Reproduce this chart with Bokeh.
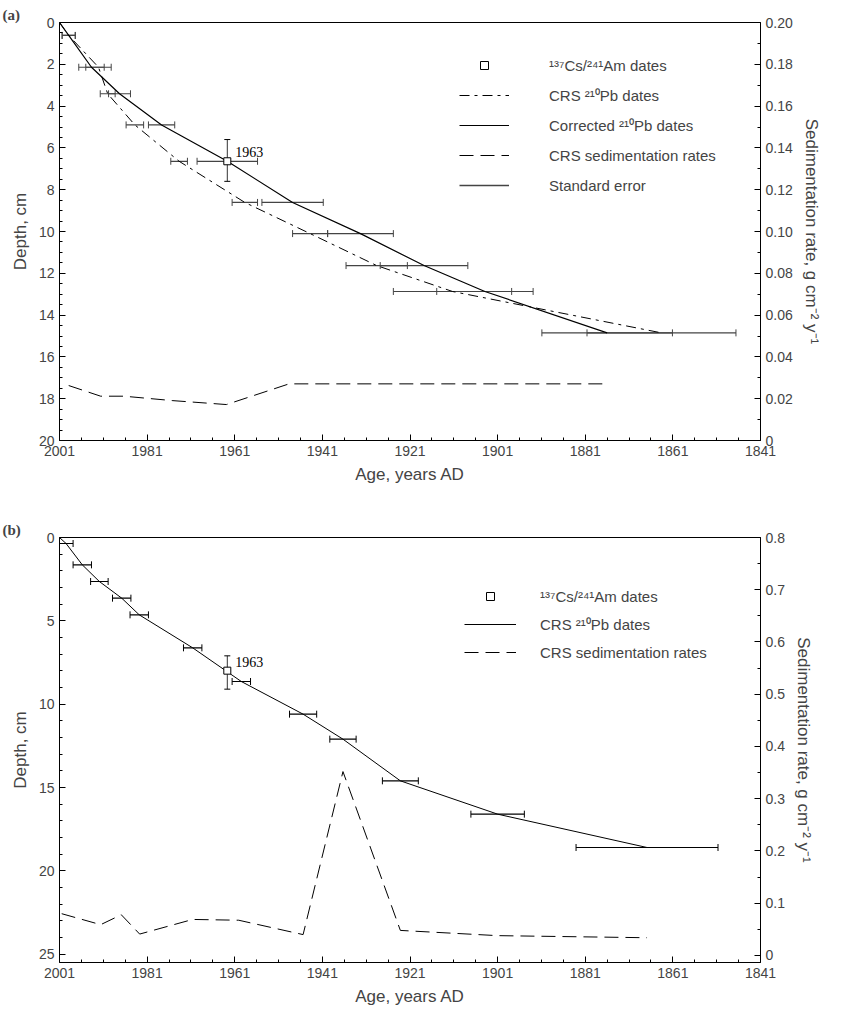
import numpy as np
from bokeh.plotting import figure
from bokeh.layouts import column
from bokeh.models import (ColumnDataSource, Range1d, LinearAxis, FixedTicker,
                          Whisker, TeeHead, Legend, LegendItem, CustomJSTickFormatter)
from bokeh.core.properties import value
from bokeh.embed import file_html
from bokeh.resources import INLINE

# ---- panel (a) data ----
a_depth = [0.62, 2.14, 3.41, 4.9, 6.64, 8.61, 10.1, 11.63, 12.87, 14.85]
a_crs_year = [1998.9, 1992.1, 1990.0, 1983.8, 1973.7, 1958.7, 1943.8, 1928.6, 1911.3, 1863.6]
a_crs_err = [1.5, 2.9, 1.7, 2.0, 1.9, 2.9, 4.0, 7.0, 13.5, 17.0]
a_cor_year = [1998.9, 1993.7, 1987.3, 1977.7, 1962.7, 1947.8, 1932.3, 1917.8, 1903.9, 1876.0]
a_cor_err = [1.5, 2.9, 2.5, 3.0, 6.9, 7.0, 7.5, 10.0, 11.0, 14.9]
a_cs_year, a_cs_depth, a_cs_lo, a_cs_hi = 1962.7, 6.64, 5.6, 7.6
a_rate_year = [1998.9, 1991.6, 1986.3, 1975.3, 1962.9, 1948.6, 1875.6]
a_rate = [0.0263, 0.0212, 0.0212, 0.0191, 0.0172, 0.0271, 0.0271]

# ---- panel (b) data ----
b_depth = [0.36, 1.64, 2.64, 3.64, 4.64, 6.62, 8.64, 10.6, 12.1, 14.6, 16.6, 18.6]
b_year = [1999.5, 1995.8, 1991.9, 1986.8, 1982.8, 1970.6, 1959.5, 1945.4, 1936.3, 1923.2, 1901.0, 1866.9]
b_err = [1.6, 2.1, 2.0, 2.1, 2.1, 2.1, 2.1, 3.1, 3.0, 4.1, 6.1, 16.2]
b_cs_year, b_cs_depth, b_cs_lo, b_cs_hi = 1962.7, 7.99, 7.1, 9.1
b_rate_year = [2000.5, 1991.6, 1986.9, 1982.7, 1970.6, 1960.1, 1945.4, 1936.3, 1923.2, 1901.0, 1866.9]
b_rate = [0.080, 0.059, 0.078, 0.041, 0.069, 0.0675, 0.040, 0.352, 0.048, 0.038, 0.034]

year_ticks = list(range(2001, 1840, -20))
SANS = "Liberation Sans"
SERIF = "Liberation Serif"
DASHDOT = "10 5 3 5"
DASHED = "14 7"


def base_fig(height, top, bottom, yr, ymajor, yminor, rr, rmajor, rminor, rdec, label):
    p = figure(frame_width=701, frame_height=height, x_range=Range1d(2001, 1841),
               y_range=Range1d(*yr), output_backend="svg", toolbar_location=None,
               min_border_left=59, min_border_right=72, min_border_top=top,
               min_border_bottom=bottom, title=label)
    p.title.align = "left"
    p.title.offset = -57
    p.title.text_font = SERIF
    p.title.text_font_size = "15px"
    p.title.text_font_style = "bold"
    p.title.standoff = 0
    p.grid.visible = False
    p.outline_line_color = "black"
    p.xaxis.ticker = FixedTicker(ticks=year_ticks, minor_ticks=list(range(2001, 1840, -5)))
    p.xaxis.axis_label = "Age, years AD"
    p.yaxis.ticker = FixedTicker(ticks=ymajor, minor_ticks=yminor)
    p.yaxis.axis_label = "Depth, cm"
    p.extra_y_ranges = {"rate": Range1d(*rr)}
    fmt = CustomJSTickFormatter(code=f"return tick == 0 ? '0' : tick.toFixed({rdec});")
    ra = LinearAxis(y_range_name="rate", axis_label="Sedimentation rate, g cm⁻² y⁻¹",
                    ticker=FixedTicker(ticks=rmajor, minor_ticks=rminor), formatter=fmt)
    p.add_layout(ra, "right")
    for ax in p.axis:
        ax.major_tick_in = 6
        ax.major_tick_out = 0
        ax.minor_tick_in = 3
        ax.minor_tick_out = 0
        ax.axis_line_color = None
        ax.major_label_text_font = SANS
        ax.major_label_text_font_size = "14px"
        ax.axis_label_text_font = SANS
        ax.axis_label_text_font_size = "17px"
        ax.axis_label_text_font_style = "normal"
        ax.axis_label_standoff = 6
    return p


def errbars(p, years, errs, depths, color="black"):
    src = ColumnDataSource(dict(d=depths, lo=[y + e for y, e in zip(years, errs)],
                                hi=[y - e for y, e in zip(years, errs)]))
    w = Whisker(source=src, base="d", lower="lo", upper="hi", dimension="width",
                line_color=color, line_width=1.2,
                lower_head=TeeHead(size=7, line_color=color),
                upper_head=TeeHead(size=7, line_color=color))
    p.add_layout(w)


def cs_point(p, x, d, lo, hi):
    src = ColumnDataSource(dict(x=[x], lo=[lo], hi=[hi]))
    p.add_layout(Whisker(source=src, base="x", lower="lo", upper="hi", dimension="height",
                         line_color="#333333", lower_head=TeeHead(size=6),
                         upper_head=TeeHead(size=6)))
    r = p.scatter([x], [d], marker="square", size=7, fill_color="white", line_color="black")
    p.text([x], [d], text=["1963"], x_offset=8, y_offset=-4, text_font=value(SERIF),
           text_font_size="14px", text_baseline="bottom")
    return r


# ---- panel (a) ----
pa = base_fig(418, 22, 50, (20, 0), list(range(0, 21, 2)), list(np.arange(0, 20.01, 0.5)),
              (0, 0.2), [round(v * 0.02, 2) for v in range(11)],
              [round(v * 0.01, 2) for v in range(21)], 2, "(a)")
errbars(pa, a_crs_year, a_crs_err, a_depth, "#444444")
errbars(pa, a_cor_year, a_cor_err, a_depth, "#444444")
r_crs = pa.line([2001] + a_crs_year, [0] + a_depth, line_color="black", line_dash=DASHDOT)
r_cor = pa.line([2001] + a_cor_year, [0] + a_depth, line_color="black", line_width=1.2)
r_rate = pa.line(a_rate_year, a_rate, y_range_name="rate", line_color="black", line_dash=DASHED)
r_cs = cs_point(pa, a_cs_year, a_cs_depth, a_cs_lo, a_cs_hi)
r_se = pa.line([3000, 3001], [-50, -50], line_color="#444444", line_width=1.5)
leg_a = Legend(items=[LegendItem(label="¹³⁷Cs/²⁴¹Am dates", renderers=[r_cs]),
                      LegendItem(label="CRS ²¹⁰Pb dates", renderers=[r_crs]),
                      LegendItem(label="Corrected ²¹⁰Pb dates", renderers=[r_cor]),
                      LegendItem(label="CRS sedimentation rates", renderers=[r_rate]),
                      LegendItem(label="Standard error", renderers=[r_se])],
               location=(400, 245), border_line_color=None, background_fill_alpha=0,
               label_text_font=SANS, label_text_font_size="15px", glyph_width=50,
               spacing=10, label_standoff=40)
pa.add_layout(leg_a, "center")

# ---- panel (b) ----
pb = base_fig(425, 47, 40, (25.5, 0), list(range(0, 26, 5)), list(range(0, 26)),
              (-0.0134, 0.8), [round(v * 0.1, 1) for v in range(9)],
              [round(v * 0.05, 2) for v in range(17)], 1, "(b)")
errbars(pb, b_year, b_err, b_depth)
r_b = pb.line([2001] + b_year, [0] + b_depth, line_color="black")
r_brate = pb.line(b_rate_year, b_rate, y_range_name="rate", line_color="black", line_dash=DASHED)
r_bcs = cs_point(pb, b_cs_year, b_cs_depth, b_cs_lo, b_cs_hi)
leg_b = Legend(items=[LegendItem(label="¹³⁷Cs/²⁴¹Am dates", renderers=[r_bcs]),
                      LegendItem(label="CRS ²¹⁰Pb dates", renderers=[r_b]),
                      LegendItem(label="CRS sedimentation rates", renderers=[r_brate])],
               location=(405, 300), border_line_color=None, background_fill_alpha=0,
               label_text_font=SANS, label_text_font_size="15px", glyph_width=52,
               spacing=8, label_standoff=24)
pb.add_layout(leg_b, "center")

layout = column(pa, pb, spacing=0)
open("out.html", "w").write(file_html(layout, INLINE))
